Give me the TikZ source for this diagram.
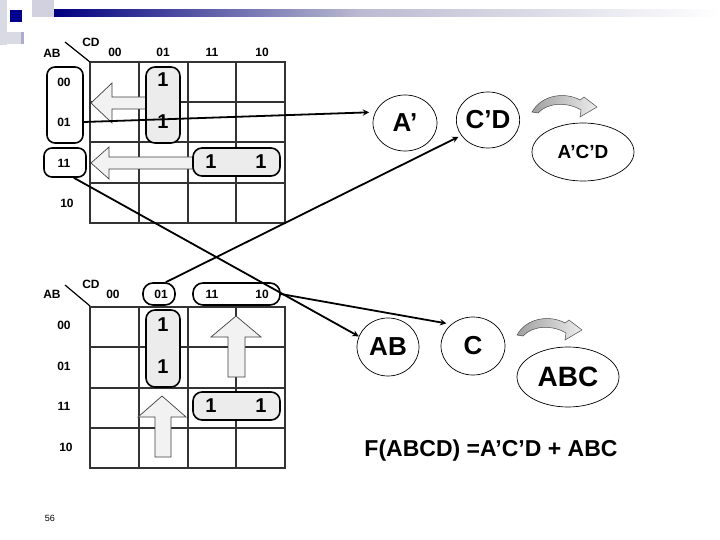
\documentclass[tikz,border=0pt]{standalone}
\usepackage{fontspec}
\setmainfont{Liberation Sans}
\usetikzlibrary{shapes.geometric}
\begin{document}
\begin{tikzpicture}[x=1pt, y=-1pt,
  lbl/.style={font=\fontsize{12}{14}\selectfont\bfseries, inner sep=0pt},
  one/.style={font=\fontsize{20}{22}\selectfont\bfseries, inner sep=0pt},
  gridline/.style={draw=black!80, line width=2pt},
  grp/.style={rectangle, draw=black, line width=1.6pt, rounded corners=9pt,
    fill=gray!15, inner sep=0pt},
  labbox/.style={rectangle, draw=black, line width=1.6pt, rounded corners=8pt,
    inner sep=0pt},
  blockarrow/.style={draw=black!75, fill=gray!10, line width=0.7pt},
  term/.style={ellipse, draw=black, line width=0.7pt, inner sep=0pt,
    font=\fontsize{26}{28}\selectfont\bfseries},
  bendarrow/.style={draw=black!70, line width=0.5pt, left color=gray!75,
    right color=gray!15},
  arrow/.style={->, line width=1.8pt, >=stealth},
]
\fill[white] (0,0) rectangle (720,540);
\useasboundingbox (0,0) rectangle (720,540);

% slide header
\fill[blue!15!gray!25] (0,0) rectangle (7,45);
\fill[blue!15!gray!25] (0,32) rectangle (21,44);
\fill[blue!30!gray!50] (21,32) rectangle (24,44);
\fill[blue!20!gray!30] (32,0) rectangle (54,17);
\shade[left color=blue!50!black, right color=blue!20!gray!45] (54,10) rectangle (360,17);
\shade[left color=blue!20!gray!45, right color=white] (360,10) rectangle (720,17);
\fill[blue!55!black] (10,10) rectangle (22,22);

% upper map
\draw[gridline] (90,62) rectangle (285,223);
\draw[gridline] (138.75,62) -- (138.75,223) (187.5,62) -- (187.5,223)
  (236.25,62) -- (236.25,223) (90,102.5) -- (285,102.5)
  (90,142.5) -- (285,142.5) (90,182.75) -- (285,182.75);
\draw[line width=1.2pt] (65,42) -- (90,62);
\node[lbl] (m1ab) at (52,53) {AB};
\node[lbl] (m1cd) at (91,42) {CD};
\node[lbl] (m1c00) at (115,52) {00};
\node[lbl] (m1c01) at (163,52) {01};
\node[lbl] (m1c11) at (212,52) {11};
\node[lbl] (m1c10) at (262,52) {10};
\node[labbox, minimum width=36pt, minimum height=76pt] (m1rows) at (65,105) {};
\node[labbox, minimum width=42pt, minimum height=29pt] (m1row11) at (65,162.5) {};
\node[lbl] (m1r00) at (64,82) {00};
\node[lbl] (m1r01) at (64,122) {01};
\node[lbl] (m1r11) at (64,163) {11};
\node[lbl] (m1r10) at (67,203) {10};

\draw[blockarrow] (91,103) -- (112,83) -- (112,97) -- (146,97) -- (146,109)
  -- (112,109) -- (112,123) -- cycle;
\draw[blockarrow] (91,163) -- (109,147) -- (109,157) -- (193,157) -- (193,169)
  -- (109,169) -- (109,179) -- cycle;

\node[grp, minimum width=34pt, minimum height=76pt] (m1g1) at (163,105) {};
\node[grp, minimum width=87pt, minimum height=28pt] (m1g2) at (236.5,162) {};
\node[one] (m1a) at (163,80) {1};
\node[one] (m1b) at (163,122) {1};
\node[one] (m1c) at (211,162) {1};
\node[one] (m1d) at (261,162) {1};

% lower map
\draw[gridline] (90,307) rectangle (285,468);
\draw[gridline] (138.75,307) -- (138.75,468) (187.5,307) -- (187.5,468)
  (236.25,307) -- (236.25,468) (90,347.25) -- (285,347.25)
  (90,387.5) -- (285,387.5) (90,427.75) -- (285,427.75);
\draw[line width=1.2pt] (65,285) -- (90,306);
\node[lbl] (m2ab) at (52,294) {AB};
\node[lbl] (m2cd) at (91,284) {CD};
\node[labbox, rounded corners=10pt, minimum width=32pt, minimum height=22pt]
  (m2col01) at (159,294) {};
\node[labbox, rounded corners=10pt, minimum width=87pt, minimum height=22pt]
  (m2col1110) at (236.5,294) {};
\node[lbl] (m2c00) at (113,294) {00};
\node[lbl] (m2c01) at (161,294) {01};
\node[lbl] (m2c11) at (212,294) {11};
\node[lbl] (m2c10) at (262,294) {10};
\node[lbl] (m2r00) at (64,325) {00};
\node[lbl] (m2r01) at (64,366) {01};
\node[lbl] (m2r11) at (64,406) {11};
\node[lbl] (m2r10) at (66,447) {10};

\draw[blockarrow] (162,396) -- (186,417) -- (171,417) -- (171,457) -- (155,457)
  -- (155,417) -- (138,417) -- cycle;
\draw[blockarrow] (236,316) -- (261,337) -- (245,337) -- (245,377) -- (228,377)
  -- (228,337) -- (211,337) -- cycle;

\node[grp, minimum width=34pt, minimum height=77pt] (m2g1) at (163,348.5) {};
\node[grp, minimum width=87pt, minimum height=28pt] (m2g2) at (236.5,406) {};
\node[one] (m2a) at (163,325) {1};
\node[one] (m2b) at (163,367) {1};
\node[one] (m2c) at (211,406) {1};
\node[one] (m2d) at (261,406) {1};

% terms
\node[term, minimum width=64pt, minimum height=56pt] (eA) at (405,123) {A’};
\node[term, minimum width=62pt, minimum height=56pt] (eCD) at (488,120) {C’D};
\node[term, minimum width=102pt, minimum height=58pt,
  font=\fontsize{19}{21}\selectfont\bfseries] (eACD) at (583,152) {A’C’D};
\node[term, minimum width=62pt, minimum height=58pt] (eAB) at (388,347) {AB};
\node[term, minimum width=64pt, minimum height=58pt] (eC) at (473,346) {C};
\node[term, minimum width=102pt, minimum height=60pt,
  font=\fontsize{28}{30}\selectfont\bfseries] (eABC) at (568,377) {ABC};

\path[bendarrow] (532,112) .. controls (542,94) and (566,92) .. (580,100)
  -- (584,97) -- (597,107) -- (580,117) -- (581,110)
  .. controls (568,102) and (548,102) .. (538,113) -- cycle;
\path[bendarrow, shift={(-15,223)}] (532,112) .. controls (542,94) and (566,92) .. (580,100)
  -- (584,97) -- (597,107) -- (580,117) -- (581,110)
  .. controls (568,102) and (548,102) .. (538,113) -- cycle;

\node[font=\fontsize{23}{26}\selectfont\bfseries, inner sep=0pt] (func)
  at (491,451) {F(ABCD) =A’C’D + ABC};
\node[font=\fontsize{9}{11}\selectfont, inner sep=0pt] (pgno) at (50,518) {56};

\draw[arrow, shorten >=6pt] (m1rows.east |- m1r01) -- (eA.160);
\draw[arrow] (m1row11.-60) -- (eAB.160);
\draw[arrow, shorten >=3pt] (m2col01.60) -- (eCD.210);
\draw[arrow, shorten >=5pt] (m2col1110.east) -- (eC.135);
\end{tikzpicture}
\end{document}
